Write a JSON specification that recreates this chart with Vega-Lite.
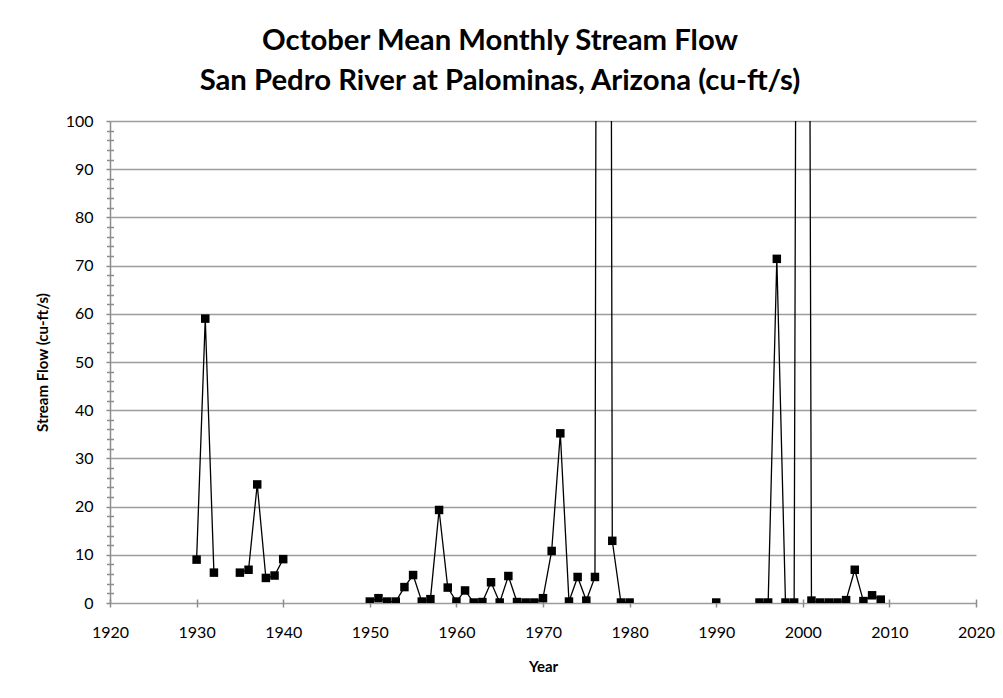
{
  "$schema": "https://vega.github.io/schema/vega-lite/v6.json",
  "width": 866,
  "height": 482,
  "autosize": {"type": "none"},
  "padding": {"left": 110, "top": 121, "right": 27, "bottom": 95},
  "background": "white",
  "title": {
    "text": ["October Mean Monthly Stream Flow", "San Pedro River at Palominas, Arizona (cu-ft/s)"],
    "font": "Lato",
    "fontSize": 29.3,
    "fontWeight": "bold",
    "color": "black",
    "anchor": "middle",
    "dx": -43,
    "baseline": "alphabetic",
    "lineHeight": 40,
    "offset": -6
  },
  "data": {
    "values": [
      {"Year": 1930, "Flow": 9.0},
      {"Year": 1931, "Flow": 59.0},
      {"Year": 1932, "Flow": 6.3},
      {"Year": 1933, "Flow": null},
      {"Year": 1934, "Flow": null},
      {"Year": 1935, "Flow": 6.3},
      {"Year": 1936, "Flow": 6.9},
      {"Year": 1937, "Flow": 24.6},
      {"Year": 1938, "Flow": 5.2},
      {"Year": 1939, "Flow": 5.7},
      {"Year": 1940, "Flow": 9.1},
      {"Year": 1941, "Flow": null},
      {"Year": 1949, "Flow": null},
      {"Year": 1950, "Flow": 0.3},
      {"Year": 1951, "Flow": 1.0},
      {"Year": 1952, "Flow": 0.3},
      {"Year": 1953, "Flow": 0.3},
      {"Year": 1954, "Flow": 3.3},
      {"Year": 1955, "Flow": 5.8},
      {"Year": 1956, "Flow": 0.3},
      {"Year": 1957, "Flow": 0.8},
      {"Year": 1958, "Flow": 19.3},
      {"Year": 1959, "Flow": 3.2},
      {"Year": 1960, "Flow": 0.3},
      {"Year": 1961, "Flow": 2.6},
      {"Year": 1962, "Flow": 0.1},
      {"Year": 1963, "Flow": 0.2},
      {"Year": 1964, "Flow": 4.3},
      {"Year": 1965, "Flow": 0.1},
      {"Year": 1966, "Flow": 5.6},
      {"Year": 1967, "Flow": 0.2},
      {"Year": 1968, "Flow": 0.1},
      {"Year": 1969, "Flow": 0.1},
      {"Year": 1970, "Flow": 1.0},
      {"Year": 1971, "Flow": 10.8},
      {"Year": 1972, "Flow": 35.2},
      {"Year": 1973, "Flow": 0.3},
      {"Year": 1974, "Flow": 5.4},
      {"Year": 1975, "Flow": 0.5},
      {"Year": 1976, "Flow": 5.4},
      {"Year": 1977, "Flow": 900},
      {"Year": 1978, "Flow": 12.9},
      {"Year": 1979, "Flow": 0.1},
      {"Year": 1980, "Flow": 0.1},
      {"Year": 1981, "Flow": null},
      {"Year": 1989, "Flow": null},
      {"Year": 1990, "Flow": 0.1},
      {"Year": 1991, "Flow": null},
      {"Year": 1994, "Flow": null},
      {"Year": 1995, "Flow": 0.1},
      {"Year": 1996, "Flow": 0.1},
      {"Year": 1997, "Flow": 71.4},
      {"Year": 1998, "Flow": 0.1},
      {"Year": 1999, "Flow": 0.1},
      {"Year": 2000, "Flow": 600},
      {"Year": 2001, "Flow": 0.5},
      {"Year": 2002, "Flow": 0.1},
      {"Year": 2003, "Flow": 0.1},
      {"Year": 2004, "Flow": 0.1},
      {"Year": 2005, "Flow": 0.6},
      {"Year": 2006, "Flow": 6.9},
      {"Year": 2007, "Flow": 0.4},
      {"Year": 2008, "Flow": 1.6},
      {"Year": 2009, "Flow": 0.7}
    ]
  },
  "encoding": {
    "x": {
      "field": "Year",
      "type": "quantitative",
      "scale": {"domain": [1920, 2020], "nice": false, "zero": false},
      "axis": {
        "title": "Year",
        "values": [1920, 1930, 1940, 1950, 1960, 1970, 1980, 1990, 2000, 2010, 2020],
        "format": "d",
        "grid": false,
        "domain": false,
        "offset": -4,
        "tickSize": 8,
        "labelPadding": 17,
        "titlePadding": 19,
        "labelFlush": false
      }
    }
  },
  "layer": [
    {
      "mark": {"type": "line", "color": "black", "strokeWidth": 1.3, "clip": true, "invalid": "break-paths-filter-domains"},
      "encoding": {
        "y": {
          "field": "Flow",
          "type": "quantitative",
          "scale": {"domain": [0, 100], "nice": false},
          "axis": {
            "title": "Stream Flow (cu-ft/s)",
            "values": [0, 10, 20, 30, 40, 50, 60, 70, 80, 90, 100],
            "grid": true,
            "domain": true,
            "tickSize": 4,
            "labelPadding": 13,
            "titlePadding": 15,
            "labelFlush": false,
            "orient": "left"
          }
        }
      }
    },
    {
      "mark": {"type": "point", "shape": "square", "filled": true, "color": "black", "size": 72, "opacity": 1, "clip": true},
      "encoding": {
        "y": {"field": "Flow", "type": "quantitative", "axis": null}
      }
    },
    {
      "mark": {"type": "point", "opacity": 0, "clip": true},
      "encoding": {
        "y": {
          "field": "Flow",
          "type": "quantitative",
          "axis": {
            "orient": "left",
            "title": null,
            "labels": false,
            "grid": false,
            "domain": false,
            "values": [2, 4, 6, 8, 12, 14, 16, 18, 22, 24, 26, 28, 32, 34, 36, 38, 42, 44, 46, 48, 52, 54, 56, 58, 62, 64, 66, 68, 72, 74, 76, 78, 82, 84, 86, 88, 92, 94, 96, 98],
            "tickSize": 7,
            "offset": -3.5
          }
        }
      }
    }
  ],
  "resolve": {"axis": {"y": "independent"}},
  "config": {
    "view": {"stroke": null},
    "axis": {
      "labelFont": "Lato",
      "labelFontSize": 16,
      "labelColor": "black",
      "titleFont": "Lato",
      "titleFontSize": 15,
      "titleFontWeight": "bold",
      "titleColor": "black",
      "domainColor": "#8c8c8c",
      "domainWidth": 1.5,
      "tickColor": "#8c8c8c",
      "tickWidth": 1.5,
      "gridColor": "#9c9c9c",
      "gridWidth": 1.3
    }
  }
}
